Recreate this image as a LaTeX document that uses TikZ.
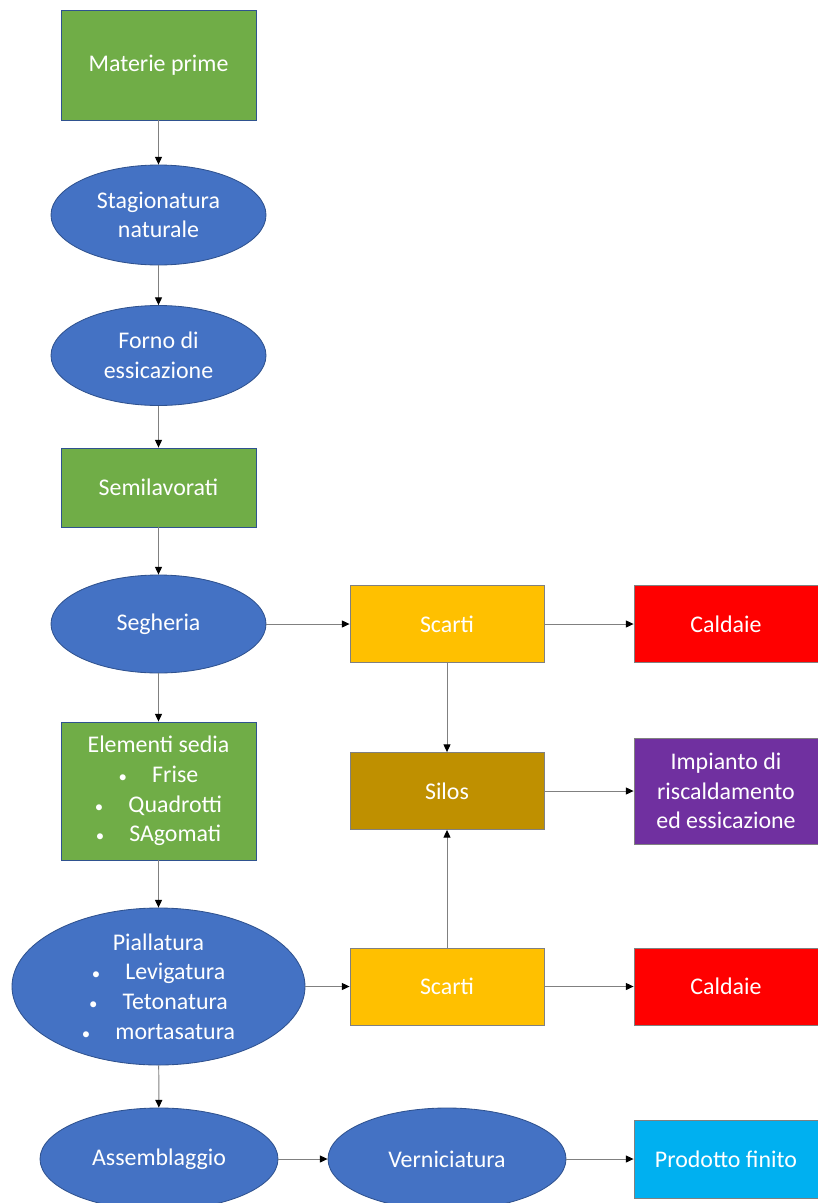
\documentclass[tikz,border=0pt]{standalone}
\usepackage{fontspec}
\setmainfont{Carlito}
\usepackage{xcolor}
\usepackage{tikz}
\usetikzlibrary{arrows.meta,shapes.geometric}
\definecolor{verde}{HTML}{70AD47}
\definecolor{blu}{HTML}{4472C4}
\definecolor{oro}{HTML}{FFC000}
\definecolor{rosso}{HTML}{FF0000}
\definecolor{bruno}{HTML}{BF9000}
\definecolor{viola}{HTML}{7030A0}
\definecolor{celeste}{HTML}{00B0F0}
\definecolor{bordoblu}{HTML}{2F528F}
\definecolor{linea}{HTML}{808080}
\newcommand{\punto}{{\fontsize{12}{12}\selectfont\textbullet}\hspace{1.05em}}

\begin{document}
\begin{tikzpicture}[x=1cm,y=1cm,
   font=\fontsize{17}{21}\selectfont,
   box/.style={draw=linea,line width=0.6pt,text=white,align=center,inner sep=1pt,
     minimum width=4.6cm,minimum height=1.925cm},
   gbox/.style={box,draw=bordoblu,fill=verde,minimum width=4.875cm},
   proc/.style={ellipse,draw=bordoblu,line width=0.6pt,fill=blu,text=white,
     align=center,inner sep=0pt,minimum width=5.375cm,minimum height=2.5cm},
   flow/.style={draw=linea,line width=0.7pt,-{Triangle[color=black,length=5.5pt,width=5pt]}}]
  \useasboundingbox (0,0) rectangle (20.45,-30.075);
  % main column
  \node[gbox,minimum height=2.75cm] (mat) at (3.9625,-1.625) {Materie prime};
  \node[proc] (stag) at (3.9625,-5.375) {Stagionatura\\naturale};
  \node[proc] (forno) at (3.9625,-8.8875) {Forno di\\essicazione};
  \node[gbox,minimum height=1.975cm] (semi) at (3.9625,-12.1875) {Semilavorati};
  \node[proc,minimum height=2.45cm] (seg) at (3.9625,-15.6) {Segheria};
  \node[gbox,minimum height=3.45cm] (elem) at (3.9625,-19.775)
     {Elementi sedia\\\punto Frise\\\punto Quadrotti\\\punto SAgomati};
  \node[proc,minimum width=7.325cm,minimum height=3.925cm] (pial) at (3.9625,-24.6625)
     {Piallatura\\\punto Levigatura\\\punto Tetonatura\\\punto mortasatura};
  \node[proc,minimum width=5.95cm,minimum height=2.55cm] (ass) at (3.975,-28.975) {Assemblaggio};
  % scarti column
  \node[box,fill=oro,minimum width=4.85cm] (scarti) at (11.175,-15.6) {Scarti};
  \node[box,fill=bruno,minimum width=4.85cm] (silos) at (11.175,-19.775) {Silos};
  \node[box,fill=oro,minimum width=4.85cm] (scartib) at (11.175,-24.6625) {Scarti};
  \node[proc,minimum width=5.95cm,minimum height=2.55cm] (vern) at (11.175,-28.975) {Verniciatura};
  % right column
  \node[box,fill=rosso] (cald) at (18.15,-15.6) {Caldaie};
  \node[box,fill=viola,minimum height=2.65cm] (imp) at (18.15,-19.775)
     {Impianto di\\riscaldamento\\ed essicazione};
  \node[box,fill=rosso] (caldb) at (18.15,-24.6625) {Caldaie};
  \node[box,fill=celeste,minimum height=1.95cm] (prod) at (18.15,-28.975) {Prodotto finito};
  % connectors
  \draw[flow] (mat) -- (stag);
  \draw[flow] (stag) -- (forno);
  \draw[flow] (forno) -- (semi);
  \draw[flow] (semi) -- (seg);
  \draw[flow] (seg) -- (elem);
  \draw[flow] (elem) -- (pial);
  \draw[flow] (pial) -- (ass);
  \draw[flow] (seg) -- (scarti);
  \draw[flow] (scarti) -- (cald);
  \draw[flow] (scarti) -- (silos);
  \draw[flow] (silos) -- (imp);
  \draw[flow] (scartib) -- (silos);
  \draw[flow] (pial) -- (scartib);
  \draw[flow] (scartib) -- (caldb);
  \draw[flow] (ass) -- (vern);
  \draw[flow] (vern) -- (prod);
\end{tikzpicture}
\end{document}
